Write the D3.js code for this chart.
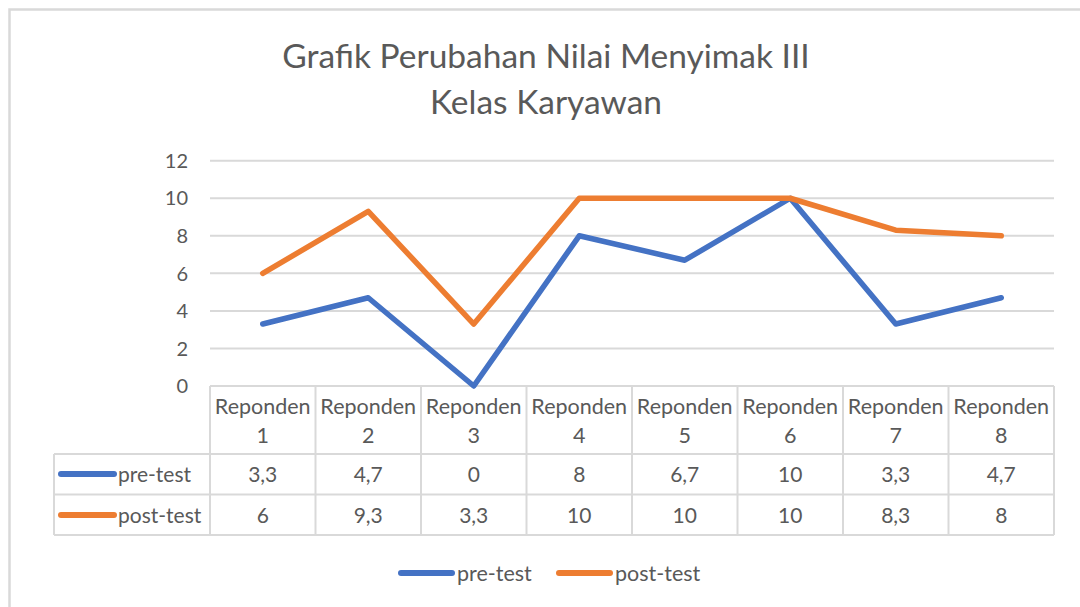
<!DOCTYPE html>
<head>
  <meta charset="utf-8">
  <script src="https://d3js.org/d3.v7.min.js"></script>
  <style>
    body { margin: 0; background: #fff; }
    text { font-family: 'Lato', sans-serif; fill: #595959; }
  </style>
</head>
<body>
  <div id="chart"></div>
  <script>
    var categories = ["Reponden 1", "Reponden 2", "Reponden 3", "Reponden 4",
                      "Reponden 5", "Reponden 6", "Reponden 7", "Reponden 8"];
    var preTest  = [3.3, 4.7, 0, 8, 6.7, 10, 3.3, 4.7];
    var postTest = [6, 9.3, 3.3, 10, 10, 10, 8.3, 8];
    var yTicks = [0, 2, 4, 6, 8, 10, 12];
    var titleLines = ["Grafik Perubahan Nilai Menyimak III", "Kelas Karyawan"];

    var series = [
      {name: "pre-test", values: preTest, color: "#4472C4"},
      {name: "post-test", values: postTest, color: "#ED7D31"}
    ];

    var W = 1080, H = 607;
    var plot = {left: 210, right: 1054, top: 160.7, bottom: 386};
    var grid = "#d9d9d9";

    var svg = d3.select("#chart").append("svg")
      .attr("width", W).attr("height", H);

    // chart frame
    svg.append("rect")
      .attr("x", 9.5).attr("y", 9.5)
      .attr("width", 1100).attr("height", 700)
      .attr("fill", "#fff")
      .attr("stroke", grid).attr("stroke-width", 2.5);

    // title
    svg.append("g").selectAll("text")
      .data(titleLines).enter().append("text")
      .attr("x", 546).attr("y", (d, i) => 68 + i * 46)
      .attr("text-anchor", "middle")
      .style("font-size", "33.5px")
      .text(d => d);

    var x = d3.scaleBand().domain(categories).range([plot.left, plot.right]);
    var y = d3.scaleLinear().domain([0, 12]).range([plot.bottom, plot.top]);

    // gridlines + y labels
    var yAxis = svg.append("g");
    yAxis.selectAll("line")
      .data(yTicks.filter(d => d > 0)).enter().append("line")
      .attr("x1", plot.left).attr("x2", plot.right)
      .attr("y1", d => y(d)).attr("y2", d => y(d))
      .attr("stroke", grid).attr("stroke-width", 2);
    yAxis.selectAll("text")
      .data(yTicks).enter().append("text")
      .attr("x", 188).attr("y", d => y(d))
      .attr("dy", "0.36em")
      .attr("text-anchor", "end")
      .style("font-size", "20px")
      .text(d => d);

    // data table
    var rowTop = [386, 454, 494.5], rowBottom = 535;
    var tableLeft = 54;
    var table = svg.append("g")
      .attr("fill", "none").attr("stroke", grid).attr("stroke-width", 2);
    table.append("line").attr("x1", plot.left).attr("x2", plot.right).attr("y1", rowTop[0]).attr("y2", rowTop[0]);
    [rowTop[1], rowTop[2], rowBottom].forEach(function (yy) {
      table.append("line").attr("x1", tableLeft).attr("x2", plot.right).attr("y1", yy).attr("y2", yy);
    });
    table.append("line").attr("x1", tableLeft).attr("x2", tableLeft).attr("y1", rowTop[1]).attr("y2", rowBottom);
    var xEdges = categories.map(c => x(c)).concat([plot.right]);
    table.selectAll(".v").data(xEdges).enter().append("line")
      .attr("x1", d => d).attr("x2", d => d)
      .attr("y1", rowTop[0]).attr("y2", rowBottom);

    // header cells
    var header = svg.append("g").selectAll("text")
      .data(categories).enter().append("text")
      .attr("text-anchor", "middle")
      .style("font-size", "21.5px");
    header.append("tspan")
      .attr("x", d => x(d) + x.bandwidth() / 2).attr("y", 414)
      .text(d => d.split(" ")[0]);
    header.append("tspan")
      .attr("x", d => x(d) + x.bandwidth() / 2).attr("y", 443)
      .text(d => d.split(" ")[1]);

    var fmt = v => String(v).replace(".", ",");
    var rowMid = [474, 515];
    series.forEach(function (s, si) {
      var g = svg.append("g");
      g.append("line")
        .attr("x1", 61).attr("x2", 114)
        .attr("y1", rowMid[si]).attr("y2", rowMid[si])
        .attr("stroke", s.color).attr("stroke-width", 6)
        .attr("stroke-linecap", "round");
      g.append("text")
        .attr("x", 118).attr("y", rowMid[si]).attr("dy", "0.36em")
        .style("font-size", "21px")
        .text(s.name);
      g.selectAll(".v").data(s.values).enter().append("text")
        .attr("x", (d, i) => x(categories[i]) + x.bandwidth() / 2)
        .attr("y", rowMid[si]).attr("dy", "0.36em")
        .attr("text-anchor", "middle")
        .style("font-size", "21px")
        .text(fmt);
    });

    // lines
    var line = d3.line()
      .x((d, i) => x(categories[i]) + x.bandwidth() / 2)
      .y(d => y(d));
    svg.append("g").selectAll("path")
      .data(series).enter().append("path")
      .attr("d", d => line(d.values))
      .attr("fill", "none")
      .attr("stroke", d => d.color)
      .attr("stroke-width", 5.5)
      .attr("stroke-linejoin", "round")
      .attr("stroke-linecap", "round");

    // legend
    var legendX = [399, 557];
    var legend = svg.append("g").selectAll("g")
      .data(series).enter().append("g")
      .attr("transform", (d, i) => "translate(" + legendX[i] + ",573)");
    legend.append("line")
      .attr("x1", 2).attr("x2", 53)
      .attr("stroke", d => d.color).attr("stroke-width", 6)
      .attr("stroke-linecap", "round");
    legend.append("text")
      .attr("x", 58).attr("dy", "0.36em")
      .style("font-size", "21.5px")
      .text(d => d.name);
  </script>
</body>
